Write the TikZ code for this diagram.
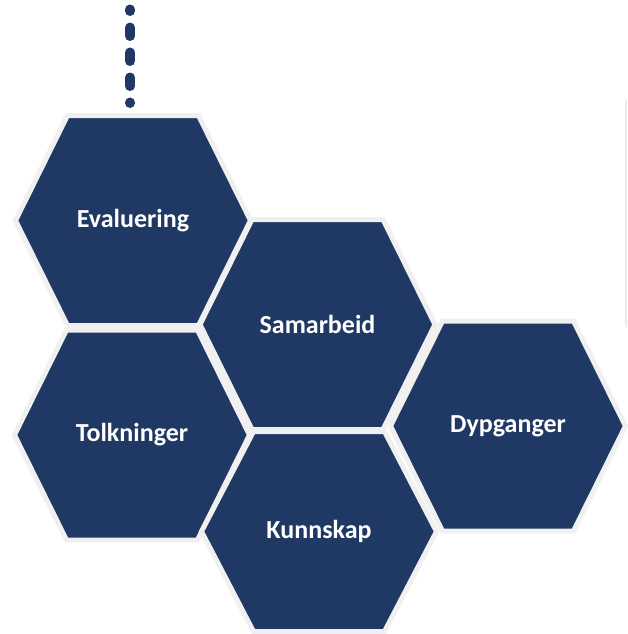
\documentclass[tikz,border=0pt]{standalone}
\usepackage{fontspec}
\setmainfont{Carlito}
\definecolor{hexblue}{HTML}{203864}
\definecolor{hexrim}{HTML}{F0F0F0}
\definecolor{edgegray}{HTML}{ECECF0}
\tikzset{
  hexcell/.style={fill=hexblue,draw=hexrim,line width=5pt,line join=miter},
  hexlabel/.style={text=white,font=\bfseries\fontsize{26}{30}\selectfont,inner sep=0pt},
  trail/.style={draw=hexblue,line width=10pt,line cap=round,
    dash pattern={on 0.5pt off 16.5pt on 8pt off 0pt}}
}
% hexagon cell: [half height]{name}{centre}{label}
\newcommand{\hexcell}[4][105]{%
  \coordinate (#2) at (#3);
  \draw[hexcell,shift={(#3)}]
    (-\hexR,0) -- (-\hexT,#1) -- (\hexT,#1) -- (\hexR,0)
    -- (\hexT,-#1) -- (-\hexT,-#1) -- cycle;
  \node[hexlabel] (#2-text) at (#2) {#4};
}

\begin{document}
\begin{tikzpicture}[x=1pt,y=-1pt]

    % Fix the canvas to the size of the picture
    \useasboundingbox (0,0) rectangle (628,634);

    % Half width and half top edge of every cell
    \def\hexR{117.5}
    \def\hexT{65.5}

    % -- Faint edge line on the right --
    \draw[edgegray,line width=2.5pt] (626,100) -- (626,327);

    % -- The honeycomb --
    \hexcell{evaluering}{133,220.5}{Evaluering}
    \hexcell{tolkninger}{132,435}{Tolkninger}
    \hexcell{samarbeid}{317.5,324.5}{Samarbeid}
    \hexcell[100]{kunnskap}{319,531.5}{Kunnskap}
    \hexcell{dypganger}{508,426}{Dypganger}

    % -- Dotted trail above the first cell --
    \coordinate (trailfoot) at (130,103);
    \coordinate (trailtop) at (130,9.5);
    \draw[trail] (trailfoot) -- (trailtop);

\end{tikzpicture}
\end{document}
